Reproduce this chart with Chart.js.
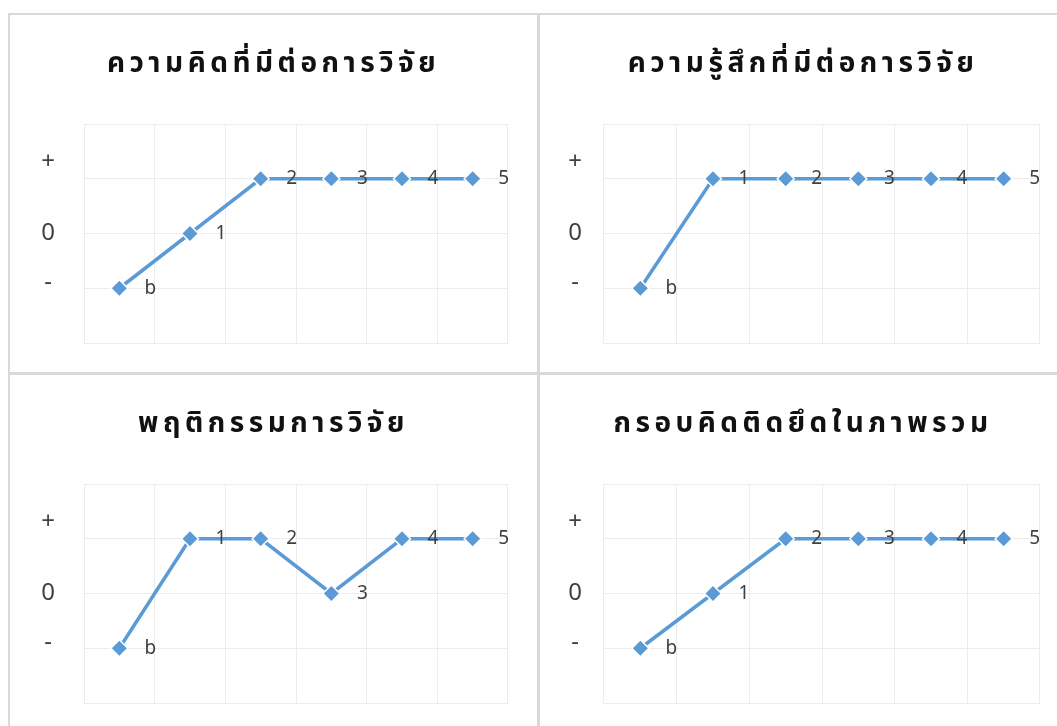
<!DOCTYPE html>
<html>
<head>
<meta charset="utf-8">
<script src="https://cdn.jsdelivr.net/npm/chart.js@4"></script>
<style>
  html, body { margin: 0; padding: 0; background: #fff; width: 1057px; height: 726px; overflow: hidden; }
  .panel { position: absolute; box-sizing: border-box; border: 2px solid #d9d9d9; background: #fff; }
  .panel .inner { position: relative; width: 100%; height: 100%; }
</style>
</head>
<body>
<div class="panel" id="p1" style="left:8px; top:13px; width:531px; height:361px;"><div class="inner"><canvas id="c1"></canvas></div></div>
<div class="panel" id="p2" style="left:538px; top:13px; width:530px; height:361px;"><div class="inner"><canvas id="c2"></canvas></div></div>
<div class="panel" id="p3" style="left:8px; top:373px; width:531px; height:361px;"><div class="inner"><canvas id="c3"></canvas></div></div>
<div class="panel" id="p4" style="left:538px; top:373px; width:530px; height:361px;"><div class="inner"><canvas id="c4"></canvas></div></div>
<script>
// ---- data ----
const categories = ['b', '1', '2', '3', '4', '5'];
const titles = ['ความคิดที่มีต่อการวิจัย', 'ความรู้สึกที่มีต่อการวิจัย', 'พฤติกรรมการวิจัย', 'กรอบคิดติดยึดในภาพรวม'];
const thinkingValues = [-1, 0, 1, 1, 1, 1];
const feelingValues = [-1, 1, 1, 1, 1, 1];
const behaviorValues = [-1, 1, 1, 0, 1, 1];
const overallValues = [-1, 0, 1, 1, 1, 1];
const yTickValues = [-1, 0, 1];
const yTickLabels = ['-', '0', '+'];

const FONT = '"Noto Sans", "Noto Sans Thai", "Open Sans", sans-serif';
const TITLE_FONT = '"Noto Sans Thai", "Noto Sans", "Leelawadee UI", sans-serif';

const titleSpacing = {
  id: 'titleSpacing',
  beforeDraw(chart) { chart.ctx.letterSpacing = '4.5px'; },
  beforeDatasetsDraw(chart) { chart.ctx.letterSpacing = '0px'; },
  afterDraw(chart) { chart.ctx.letterSpacing = '0px'; }
};

const pointLabels = {
  id: 'pointLabels',
  afterDatasetsDraw(chart) {
    const ctx = chart.ctx;
    const meta = chart.getDatasetMeta(0);
    ctx.save();
    ctx.letterSpacing = '0px';
    ctx.font = '19px ' + FONT;
    ctx.fillStyle = '#404040';
    ctx.textAlign = 'center';
    ctx.textBaseline = 'middle';
    meta.data.forEach((pt, i) => {
      ctx.fillText(chart.data.labels[i], pt.x + 31, pt.y);
    });
    ctx.restore();
  }
};

function makeChart(id, title, values, geo) {
  return new Chart(document.getElementById(id), {
    type: 'line',
    data: {
      labels: categories,
      datasets: [{
        data: values,
        borderColor: '#5B9BD5',
        borderWidth: 3.5,
        tension: 0,
        fill: false,
        pointStyle: 'rectRot',
        pointRadius: 8.5,
        pointHoverRadius: 8.5,
        pointBackgroundColor: '#5B9BD5',
        pointBorderColor: '#ffffff',
        pointBorderWidth: 1.5
      }]
    },
    options: {
      responsive: true,
      maintainAspectRatio: false,
      animation: false,
      events: [],
      layout: { padding: { left: geo.padL, right: geo.padR, top: 0, bottom: 29 } },
      plugins: {
        legend: { display: false },
        tooltip: { enabled: false },
        title: {
          display: true,
          text: title,
          color: '#111111',
          font: { family: TITLE_FONT, size: 28, weight: 'bold', lineHeight: 1.2 },
          padding: { top: 35, bottom: 40.4 }
        }
      },
      scales: {
        x: {
          offset: true,
          grid: { offset: true, color: '#ececec', lineWidth: 1, drawTicks: false },
          border: { display: false },
          ticks: { display: false }
        },
        y: {
          min: -2,
          max: 2,
          grid: { color: '#ececec', lineWidth: 1, drawTicks: false },
          border: { display: false },
          ticks: {
            stepSize: 1,
            autoSkip: false,
            z: 1,
            crossAlign: 'center',
            padding: geo.tickPad,
            color: '#404040',
            font: (ctx) => {
              const v = ctx.tick ? ctx.tick.value : null;
              let lh = 1.2;
              if (v === 1) lh = 34 / 24;
              else if (v === -1) lh = 12 / 24;
              return { family: FONT, size: 24, lineHeight: lh };
            },
            callback: (v) => {
              const i = yTickValues.indexOf(v);
              if (i < 0) return '';
              const t = yTickLabels[i];
              return v === 0 ? t : [t, ''];
            }
          },
          afterFit(scale) {
            scale.width = geo.axisW;
            scale.paddingTop = 0;
            scale.paddingBottom = 0;
          }
        }
      }
    },
    plugins: [titleSpacing, pointLabels]
  });
}

const geoLeft = { padL: 29, padR: 29, axisW: 45, tickPad: 29 };
const geoRight = { padL: 26, padR: 26, axisW: 38, tickPad: 22 };

makeChart('c1', titles[0], thinkingValues, geoLeft);
makeChart('c2', titles[1], feelingValues, geoRight);
makeChart('c3', titles[2], behaviorValues, geoLeft);
makeChart('c4', titles[3], overallValues, geoRight);
</script>
</body>
</html>
